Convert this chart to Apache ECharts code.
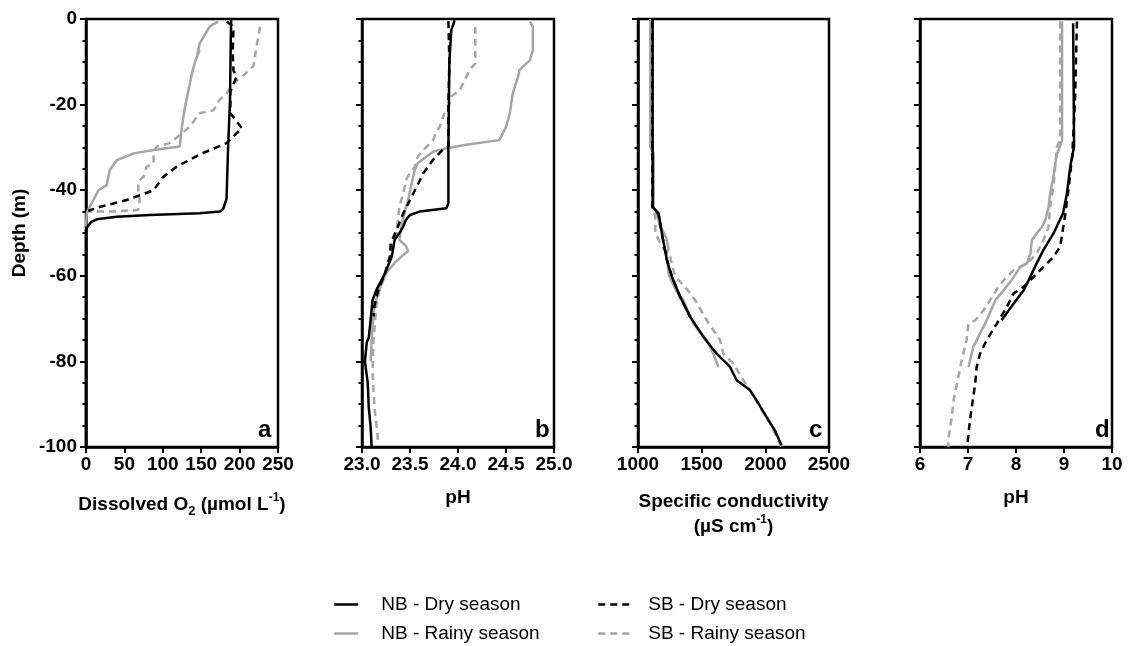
<!DOCTYPE html>
<html>
<head>
<meta charset="utf-8">
<script src="https://cdn.jsdelivr.net/npm/echarts@6/dist/echarts.min.js"></script>
<style>
  html, body { margin: 0; padding: 0; background: #fff; }
  #chart { width: 1129px; height: 646px; }
</style>
</head>
<body>
<div id="chart"></div>
<script>
// ---------- series names ----------
const seriesNames = ['NB - Dry season', 'NB - Rainy season', 'SB - Dry season', 'SB - Rainy season'];

// ---------- axis settings (ticks) ----------
const depthTicks = { min: -100, max: 0, interval: 20 };
const xTicksA = { min: 0, max: 250, interval: 50 };
const xTicksB = { min: 23.0, max: 25.0, interval: 0.5 };
const xTicksC = { min: 1000, max: 2500, interval: 500 };
const xTicksD = { min: 6, max: 10, interval: 1 };
const panelLetters = ['a', 'b', 'c', 'd'];

// ---------- Panel a: Dissolved O2 [value, depth] ----------
const a_nbDry = [[189,-0.2],[188.5,-5],[187.5,-19],[185,-30],[183,-42],[178.8,-44.3],[174.5,-45],[148,-45.4],[83,-45.8],[40,-46.2],[14,-46.8],[7,-47.4],[2,-48.5],[0,-49.3],[0,-100]];
const a_sbDry = [[183,-0.6],[190,-1.5],[192,-2.2],[191,-8],[192,-12],[196,-13.5],[188,-17],[188,-22],[203,-25.5],[183,-29],[150,-31.5],[118,-34.5],[100,-37],[88,-40],[53,-42.3],[20,-43.8],[3,-44.8]];
const a_nbRainy = [[172,-0.6],[165,-1.3],[161,-1.8],[148,-5.7],[145,-8.3],[148,-7.2],[142,-10],[138,-12.7],[133,-17],[129,-20.5],[125,-25],[122,-29.8],[100,-30.3],[88,-30.6],[62,-31.4],[40,-33],[31,-35.3],[27,-38.8],[16,-40],[12,-41.5],[5,-43.8],[1,-45.4],[0,-48.5]];
const a_sbRainy = [[226.6,-1.8],[222,-6.5],[218,-11],[203,-13.5],[192,-15],[183,-17.4],[174,-18.9],[166,-21.3],[148,-22],[135,-25.2],[125,-26.7],[109,-29],[92,-29.8],[88,-31.4],[88,-33.7],[79,-34.5],[75,-36.8],[68,-38],[68,-40.7],[70,-42.3],[68,-44.6],[30,-45],[1,-45]];

// ---------- Panel b ----------
const b_nbDry = [[23.965,-0.3],[23.93,-2.6],[23.91,-10],[23.9,-30],[23.9,-43],[23.88,-44.2],[23.6,-45],[23.5,-45.8],[23.455,-47],[23.43,-48.5],[23.39,-50],[23.34,-51.6],[23.31,-55.5],[23.24,-59.4],[23.15,-63.3],[23.11,-65.7],[23.09,-70.3],[23.07,-74.5],[23.05,-75.5],[23.03,-80],[23.06,-85],[23.07,-90.6],[23.09,-95.3],[23.1,-99.9]];
const b_sbDry = [[23.9,-0.5],[23.91,-10],[23.9,-20],[23.9,-29.8],[23.84,-30.6],[23.74,-32.9],[23.64,-36],[23.57,-39.2],[23.5,-42.3],[23.43,-45.4],[23.375,-48.5],[23.3,-52.4],[23.29,-55.5],[23.24,-59.4],[23.17,-63.3],[23.13,-67],[23.12,-69.5]];
const b_nbRainy = [[24.75,-0.6],[24.78,-1.8],[24.78,-7.2],[24.75,-9.6],[24.64,-11.9],[24.625,-13.5],[24.57,-17.4],[24.54,-22],[24.5,-25.2],[24.43,-28.3],[24.1,-29.3],[23.88,-30.2],[23.74,-31],[23.67,-32.2],[23.58,-33.7],[23.55,-35.3],[23.51,-39.2],[23.48,-42.3],[23.44,-45.4],[23.41,-48.5],[23.39,-51.6],[23.46,-53.1],[23.48,-54.2],[23.41,-55.5],[23.34,-57],[23.25,-59.4],[23.18,-63.3],[23.13,-67],[23.11,-71.8],[23.1,-74.9],[23.09,-80]];
const b_sbRainy = [[24.18,-1.8],[24.18,-10.4],[24.12,-11.9],[24.07,-14.3],[24.02,-16.6],[23.93,-18.1],[23.9,-20.5],[23.86,-22],[23.81,-25.2],[23.77,-26.7],[23.74,-28.3],[23.64,-30.6],[23.58,-32.2],[23.55,-34.5],[23.5,-36],[23.46,-37.6],[23.43,-40.7],[23.39,-43.8],[23.36,-50],[23.29,-55.5],[23.24,-59.4],[23.18,-63.3],[23.15,-67],[23.12,-74.9],[23.11,-82.7],[23.13,-90.6],[23.16,-96.8],[23.17,-99.5]];

// ---------- Panel c: specific conductivity ----------
const c_nbDry = [[1115,0],[1115,-20],[1115,-43.9],[1122,-44.3],[1162,-45.4],[1188,-50.1],[1227,-56.4],[1266,-60.2],[1331,-64.9],[1410,-69.6],[1514,-74.3],[1618,-78.2],[1723,-81.3],[1775,-84.4],[1879,-86.7],[1931,-89.1],[2010,-93],[2075,-96.1],[2127,-99.6]];
const c_sbDry = [[1112,-0.5],[1112,-44],[1160,-45.5],[1186,-50],[1228,-56.4],[1267,-60.2],[1332,-65],[1412,-69.8]];
const c_nbRainy = [[1096,0],[1096,-29.9],[1123,-31.4],[1123,-44],[1150,-45.5],[1170,-48],[1220,-51],[1240,-53.6],[1225,-55],[1240,-59.5],[1260,-61],[1300,-63.5],[1357,-65.7],[1436,-71.2],[1540,-75],[1592,-78.2],[1631,-81.3]];
const c_sbRainy = [[1110,-0.5],[1110,-30],[1115,-44],[1136,-46.2],[1136,-50],[1188,-53.2],[1253,-55.6],[1292,-60.2],[1370,-62.6],[1449,-65.7],[1540,-70.4],[1644,-75],[1670,-78.2],[1749,-80.5],[1827,-84.4],[1879,-86.7],[1957,-90.6],[2036,-94.5],[2101,-98.4],[2127,-100]];

// ---------- Panel d: pH ----------
const d_nbDry = [[9.19,-1],[9.2,-15],[9.21,-29.8],[9.13,-34.5],[9.06,-40.8],[8.98,-45.4],[8.78,-50.1],[8.57,-54],[8.43,-57.1],[8.3,-60.2],[8.16,-63.4],[7.95,-66.5],[7.7,-70.4]];
const d_sbDry = [[9.27,-0.6],[9.23,-18.9],[9.17,-32.2],[9.1,-39.2],[9.03,-45.4],[8.92,-53.2],[8.78,-55.6],[8.57,-57.9],[8.37,-60.2],[8.16,-62.6],[7.95,-64.1],[7.81,-67.3],[7.6,-71.2],[7.39,-75],[7.25,-78.2],[7.18,-81.3],[7.15,-85.2],[7.1,-89.1],[7.04,-93.8],[6.99,-99.2]];
const d_nbRainy = [[8.96,-0.6],[8.96,-28.3],[8.89,-30.6],[8.85,-31.5],[8.78,-36.9],[8.71,-40.8],[8.68,-43.9],[8.61,-47],[8.54,-48.6],[8.43,-50.1],[8.33,-51.7],[8.3,-54.8],[8.23,-57.1],[8.09,-57.9],[7.91,-61],[7.74,-63.4],[7.57,-65.7],[7.39,-70.4],[7.25,-73.5],[7.11,-76.6],[7.01,-81.3]];
const d_sbRainy = [[8.92,-0.6],[8.92,-28.3],[8.85,-29.9],[8.78,-39.2],[8.71,-43.9],[8.68,-48.6],[8.57,-51.7],[8.43,-54.8],[8.23,-57.1],[7.95,-58.7],[7.81,-60.2],[7.63,-62.6],[7.46,-65.7],[7.32,-68.1],[7.15,-70.4],[7.01,-71.2],[6.97,-75],[6.87,-79.7],[6.77,-85.2],[6.7,-89.1],[6.66,-93],[6.59,-98.4],[6.59,-100]];

// ---------- build chart ----------
const FONT = '"Liberation Sans", Arial, sans-serif';
const GRAY = '#a5a5a5';
const panels = [
  { ticks: xTicksA, data: [a_nbDry, a_nbRainy, a_sbDry, a_sbRainy], fmt: v => String(v) },
  { ticks: xTicksB, data: [b_nbDry, b_nbRainy, b_sbDry, b_sbRainy], fmt: v => v.toFixed(1) },
  { ticks: xTicksC, data: [c_nbDry, c_nbRainy, c_sbDry, c_sbRainy], fmt: v => String(v) },
  { ticks: xTicksD, data: [d_nbDry, d_nbRainy, d_sbDry, d_sbRainy], fmt: v => String(v) }
];
const gridPos = [
  { left: 86, top: 19, width: 192, height: 428 },
  { left: 362, top: 19, width: 192, height: 428 },
  { left: 638, top: 19, width: 191, height: 428 },
  { left: 920, top: 19, width: 192, height: 428 }
];
const styles = [
  { color: '#000', type: 'solid' },
  { color: GRAY, type: 'solid' },
  { color: '#000', type: [7, 5] },
  { color: GRAY, type: [7, 5] }
];
const drawOrder = [3, 1, 2, 0];

const richBase = {
  b: { fontFamily: FONT, fontWeight: 'bold', fontSize: 19, color: '#000', lineHeight: 26 },
  sub: { fontFamily: FONT, fontWeight: 'bold', fontSize: 13, color: '#000', lineHeight: 12, verticalAlign: 'bottom' },
  sup: { fontFamily: FONT, fontWeight: 'bold', fontSize: 12, color: '#000', lineHeight: 12, verticalAlign: 'top' }
};
const richC = {
  b: { fontFamily: FONT, fontWeight: 'bold', fontSize: 19, color: '#000', lineHeight: 25 },
  sup: { fontFamily: FONT, fontWeight: 'bold', fontSize: 12, color: '#000', lineHeight: 10, verticalAlign: 'top' }
};
const xNames = [
  { name: '{b|Dissolved O}{sub|2}{b| (µmol L}{sup|-1}{b|)}', gap: 45, rich: richBase },
  { name: '{b|pH}', gap: 41, rich: { b: { fontFamily: FONT, fontWeight: 'bold', fontSize: 19, color: '#000', lineHeight: 19 } } },
  { name: '{b|Specific conductivity}\n{b|(µS cm}{sup|-1}{b|)}', gap: 42, rich: richC },
  { name: '{b|pH}', gap: 41, rich: { b: { fontFamily: FONT, fontWeight: 'bold', fontSize: 19, color: '#000', lineHeight: 19 } } }
];

const grid = gridPos.map(g => Object.assign({ show: true, borderColor: '#000', borderWidth: 2.5, backgroundColor: 'transparent' }, g));
const xAxis = panels.map((p, i) => ({
  type: 'value', gridIndex: i,
  min: p.ticks.min, max: p.ticks.max, interval: p.ticks.interval,
  axisLine: { show: true, onZero: false, lineStyle: { color: '#000', width: 2.5 } },
  axisTick: { show: true, length: 6, lineStyle: { color: '#000', width: 2 } },
  splitLine: { show: false },
  axisLabel: { show: true, margin: 8, fontFamily: FONT, fontWeight: 'bold', fontSize: 19, color: '#000', formatter: p.fmt, showMinLabel: true, showMaxLabel: true, hideOverlap: false },
  name: xNames[i].name, nameLocation: 'middle', nameGap: xNames[i].gap,
  nameTextStyle: { rich: xNames[i].rich, align: 'center' }
}));
const yAxis = panels.map((p, i) => ({
  type: 'value', gridIndex: i,
  min: depthTicks.min, max: depthTicks.max, interval: depthTicks.interval,
  axisLine: { show: true, onZero: false, lineStyle: { color: '#000', width: 2.5 } },
  axisTick: { show: true, length: 6, lineStyle: { color: '#000', width: 2 } },
  minorTick: { show: true, splitNumber: 4, length: 3.5, lineStyle: { color: '#000', width: 2 } },
  splitLine: { show: false },
  minorSplitLine: { show: false },
  axisLabel: { show: i === 0, margin: 9, fontFamily: FONT, fontWeight: 'bold', fontSize: 19, color: '#000' },
  name: i === 0 ? 'Depth (m)' : '', nameLocation: 'middle', nameGap: 57, nameRotate: 90,
  nameTextStyle: { fontFamily: FONT, fontWeight: 'bold', fontSize: 19, color: '#000' }
}));

const series = [];
panels.forEach((p, i) => {
  drawOrder.forEach(k => {
    series.push({
      name: seriesNames[k], type: 'line', xAxisIndex: i, yAxisIndex: i,
      data: p.data[k], showSymbol: false, symbol: 'none', smooth: false,
      animation: false,
      lineStyle: { color: styles[k].color, width: 2.5, type: styles[k].type },
      itemStyle: { color: styles[k].color }
    });
  });
});

const legendText = { fontFamily: FONT, fontSize: 19, color: '#000' };
const legend = [
  { data: [seriesNames[0], seriesNames[1]], orient: 'vertical', left: 333, top: 595, itemWidth: 24, itemHeight: 12, itemGap: 10, padding: 0, selectedMode: false,
    itemStyle: { opacity: 0 }, lineStyle: { width: 2.5 },
    textStyle: Object.assign({ padding: [0, 0, 0, 18] }, legendText) },
  { data: [seriesNames[2], seriesNames[3]], orient: 'vertical', left: 597, top: 595, itemWidth: 33, itemHeight: 12, itemGap: 10, padding: 0, selectedMode: false,
    itemStyle: { opacity: 0 }, lineStyle: { width: 2.5 },
    textStyle: Object.assign({ padding: [0, 0, 0, 12] }, legendText) }
];

const letterRight = [272, 549, 823, 1109];
const graphic = panelLetters.map((t, i) => ({
  type: 'text', left: letterRight[i] - 14, top: 418, z: 100,
  style: { text: t, fontFamily: FONT, fontWeight: 'bold', fontSize: 24, fill: '#000' }
}));

const chart = echarts.init(document.getElementById('chart'), null, { renderer: 'canvas' });
chart.setOption({
  animation: false,
  backgroundColor: '#fff',
  grid, xAxis, yAxis, series, legend, graphic
});
</script>
</body>
</html>
